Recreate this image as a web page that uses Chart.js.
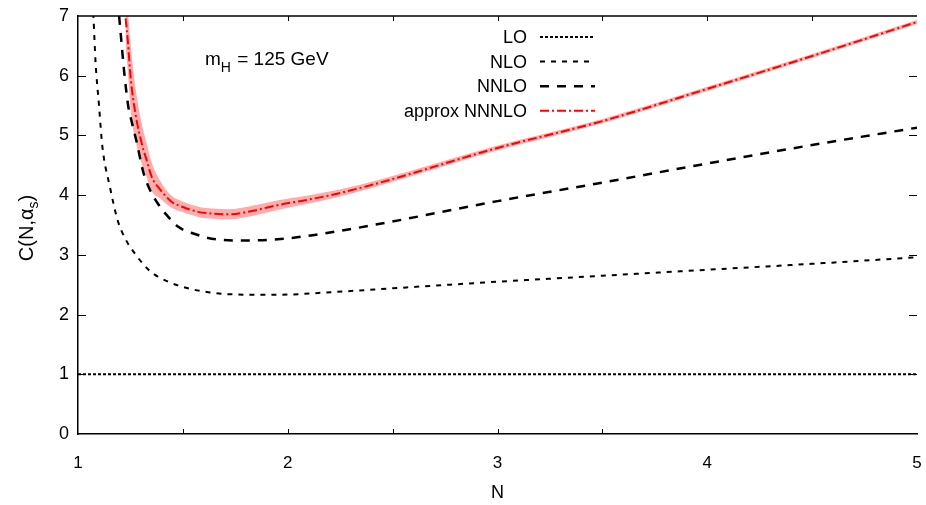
<!DOCTYPE html>
<html>
<head>
<meta charset="utf-8">
<script src="https://cdn.jsdelivr.net/npm/chart.js@4.4.1/dist/chart.umd.min.js"></script>
<style>
  html, body { margin: 0; padding: 0; background: #fff; }
  #wrap { width: 926px; height: 505px; }
</style>
</head>
<body>
<div id="wrap"><canvas id="c" width="926" height="505"></canvas></div>
<script>
// ---- data ----
const xTicks = [1, 2, 3, 4, 5];
const yTicks = [0, 1, 2, 3, 4, 5, 6, 7];

const loN = [1, 5];
const loC = [1, 1];

const nloN = [1.073, 1.084, 1.10, 1.116, 1.152, 1.189, 1.224, 1.28, 1.343, 1.43, 1.524, 1.629, 1.724, 1.93, 2.23, 2.5, 3.0, 3.5, 4.0, 4.5, 5.0];
const nloC = [7.05, 6.21, 5.51, 4.82, 4.14, 3.58, 3.28, 2.98, 2.73, 2.55, 2.44, 2.37, 2.34, 2.33, 2.38, 2.44, 2.55, 2.65, 2.75, 2.85, 2.96];

const nnloN = [1.196, 1.205, 1.22, 1.24, 1.256, 1.279, 1.311, 1.34, 1.375, 1.422, 1.478, 1.557, 1.637, 1.795, 1.952, 2.12, 2.44, 3.0, 3.5, 4.0, 4.5, 5.0];
const nnloC = [7.0, 6.65, 6.07, 5.48, 5.23, 4.90, 4.39, 4.11, 3.89, 3.67, 3.47, 3.35, 3.27, 3.24, 3.26, 3.33, 3.52, 3.90, 4.21, 4.53, 4.84, 5.13];

const n3loN = [1.227, 1.237, 1.252, 1.276, 1.308, 1.327, 1.351, 1.39, 1.446, 1.494, 1.573, 1.643, 1.724, 1.835, 1.962, 2.09, 2.23, 2.44, 3.0, 3.5, 4.0, 4.5, 5.0];
const n3loC = [6.96, 6.6, 5.93, 5.32, 4.81, 4.59, 4.31, 4.10, 3.89, 3.81, 3.72, 3.69, 3.68, 3.74, 3.84, 3.92, 4.02, 4.21, 4.79, 5.24, 5.78, 6.33, 6.9];
const n3loHigh = [7.41, 7.10, 6.48, 5.75, 5.14, 4.87, 4.55, 4.25, 3.99, 3.90, 3.805, 3.775, 3.765, 3.825, 3.92, 3.99, 4.08, 4.26, 4.83, 5.275, 5.815, 6.365, 6.935];
const n3loLow = [6.51, 6.10, 5.38, 4.89, 4.48, 4.31, 4.07, 3.95, 3.79, 3.72, 3.635, 3.605, 3.595, 3.655, 3.76, 3.85, 3.96, 4.16, 4.75, 5.205, 5.745, 6.295, 6.865];

const FONT = '"Liberation Sans", Arial, Helvetica, sans-serif';

function pts(xs, ys) {
  return xs.map((x, i) => ({ x, y: ys[i] }));
}

const legendItems = [
  { label: 'LO', color: '#000', dash: [3, 2], width: 2 },
  { label: 'NLO', color: '#000', dash: [5, 6], width: 2 },
  { label: 'NNLO', color: '#000', dash: [9, 8], width: 2.5 },
  { label: 'approx NNNLO', color: '#ff0000', dash: [9, 3, 2, 3], width: 2 },
];

// frame, inward ticks, axis titles, annotation and legend
const decor = {
  id: 'decor',
  afterDraw(chart) {
    const ctx = chart.ctx;
    const a = chart.chartArea;
    const xs = chart.scales.x, ys = chart.scales.y;
    ctx.save();
    ctx.strokeStyle = '#000';
    ctx.lineWidth = 1.5;
    ctx.setLineDash([]);
    ctx.beginPath();
    ctx.moveTo(a.left, a.top);
    ctx.lineTo(a.right, a.top);
    ctx.stroke();

    ctx.lineWidth = 1;
    ctx.beginPath();
    [1.5, 2, 2.5, 3, 3.5].forEach(v => {
      const px = Math.round(xs.getPixelForValue(v)) + 0.5;
      ctx.moveTo(px, a.bottom); ctx.lineTo(px, a.bottom - 5);
    });
    [1.5, 2, 2.5, 3, 3.5, 4, 4.5].forEach(v => {
      const px = Math.round(xs.getPixelForValue(v)) + 0.5;
      ctx.moveTo(px, a.top); ctx.lineTo(px, a.top + 5);
    });
    [1, 2, 3, 4, 5, 6].forEach(v => {
      const py = Math.round(ys.getPixelForValue(v)) + 0.5;
      ctx.moveTo(a.left, py); ctx.lineTo(a.left + 8, py);
      ctx.moveTo(a.right, py); ctx.lineTo(a.right - 8, py);
    });
    ctx.stroke();

    ctx.fillStyle = '#000';
    // x title
    ctx.font = '18px ' + FONT;
    ctx.textAlign = 'center';
    ctx.textBaseline = 'middle';
    ctx.fillText('N', xs.getPixelForValue(3), 493);

    // y title C(N,α_s)
    ctx.save();
    ctx.translate(26, 228);
    ctx.rotate(-Math.PI / 2);
    ctx.textBaseline = 'alphabetic';
    ctx.textAlign = 'left';
    const p1 = 'C(N,α', p2 = 's', p3 = ')';
    ctx.font = '20px ' + FONT;
    const w1 = ctx.measureText(p1).width;
    const w3 = ctx.measureText(p3).width;
    ctx.font = '14px ' + FONT;
    const w2 = ctx.measureText(p2).width;
    const x0 = -(w1 + w2 + w3) / 2;
    ctx.font = '20px ' + FONT;
    ctx.fillText(p1, x0, 7);
    ctx.fillText(p3, x0 + w1 + w2, 7);
    ctx.font = '14px ' + FONT;
    ctx.fillText(p2, x0 + w1, 12);
    ctx.restore();

    // annotation m_H = 125 GeV
    ctx.textAlign = 'left';
    ctx.textBaseline = 'alphabetic';
    ctx.font = '19px ' + FONT;
    let ax = 205;
    ctx.fillText('m', ax, 65);
    ax += ctx.measureText('m').width;
    ctx.font = '14px ' + FONT;
    ctx.fillText('H', ax, 72);
    ax += ctx.measureText('H').width + 1;
    ctx.font = '19px ' + FONT;
    ctx.fillText(' = 125 GeV', ax, 65);

    // legend
    ctx.font = '18px ' + FONT;
    ctx.textAlign = 'right';
    legendItems.forEach((it, i) => {
      const base = 43 + i * 24.6;
      ctx.fillStyle = '#000';
      ctx.fillText(it.label, 527, base);
      ctx.strokeStyle = it.color;
      ctx.lineWidth = it.width;
      ctx.setLineDash(it.dash);
      ctx.beginPath();
      ctx.moveTo(540, base - 6);
      ctx.lineTo(595, base - 6);
      ctx.stroke();
    });
    ctx.restore();
  }
};

const lineBase = { pointRadius: 0, fill: false, cubicInterpolationMode: 'monotone', borderCapStyle: 'butt' };

new Chart(document.getElementById('c').getContext('2d'), {
  type: 'line',
  data: {
    datasets: [
      { ...lineBase, label: 'LO', data: pts(loN, loC), borderColor: '#000', borderWidth: 2, borderDash: [3, 2], order: 1 },
      { ...lineBase, label: 'NLO', data: pts(nloN, nloC), borderColor: '#000', borderWidth: 2, borderDash: [5, 6], order: 2 },
      { ...lineBase, label: 'NNLO', data: pts(nnloN, nnloC), borderColor: '#000', borderWidth: 2.5, borderDash: [9, 8], order: 3 },
      { ...lineBase, label: 'band high', data: pts(n3loN, n3loHigh), borderWidth: 0, borderColor: 'rgba(0,0,0,0)',
        backgroundColor: 'rgb(255,172,172)', fill: '+1', order: 6 },
      { ...lineBase, label: 'band low', data: pts(n3loN, n3loLow), borderWidth: 0, borderColor: 'rgba(0,0,0,0)', order: 7 },
      { ...lineBase, label: 'approx NNNLO', data: pts(n3loN, n3loC), borderColor: '#ff0000', borderWidth: 2, borderDash: [9, 3, 2, 3], order: 0 },
    ],
  },
  options: {
    responsive: false,
    animation: false,
    devicePixelRatio: 1,
    layout: { padding: { top: 16, right: 9, left: 0, bottom: 0 } },
    plugins: { legend: { display: false }, tooltip: { enabled: false } },
    scales: {
      x: {
        type: 'linear', min: 1, max: 5,
        afterFit(s) { s.height = 71; s.paddingLeft = 0; s.paddingRight = 0; },
        afterBuildTicks(s) { s.ticks = xTicks.map(v => ({ value: v })); },
        grid: { display: false, drawTicks: false },
        border: { display: true, color: '#000', width: 1.5 },
        ticks: { color: '#000', padding: 19, maxRotation: 0, font: { family: FONT, size: 17 } },
      },
      y: {
        type: 'linear', min: 0, max: 7,
        afterFit(s) { s.width = 78; s.paddingTop = 0; s.paddingBottom = 0; },
        afterBuildTicks(s) { s.ticks = yTicks.map(v => ({ value: v })); },
        grid: { display: false, drawTicks: false },
        border: { display: true, color: '#000', width: 1.5 },
        ticks: { color: '#000', padding: 9, font: { family: FONT, size: 18 } },
      },
    },
  },
  plugins: [decor],
});
</script>
</body>
</html>
